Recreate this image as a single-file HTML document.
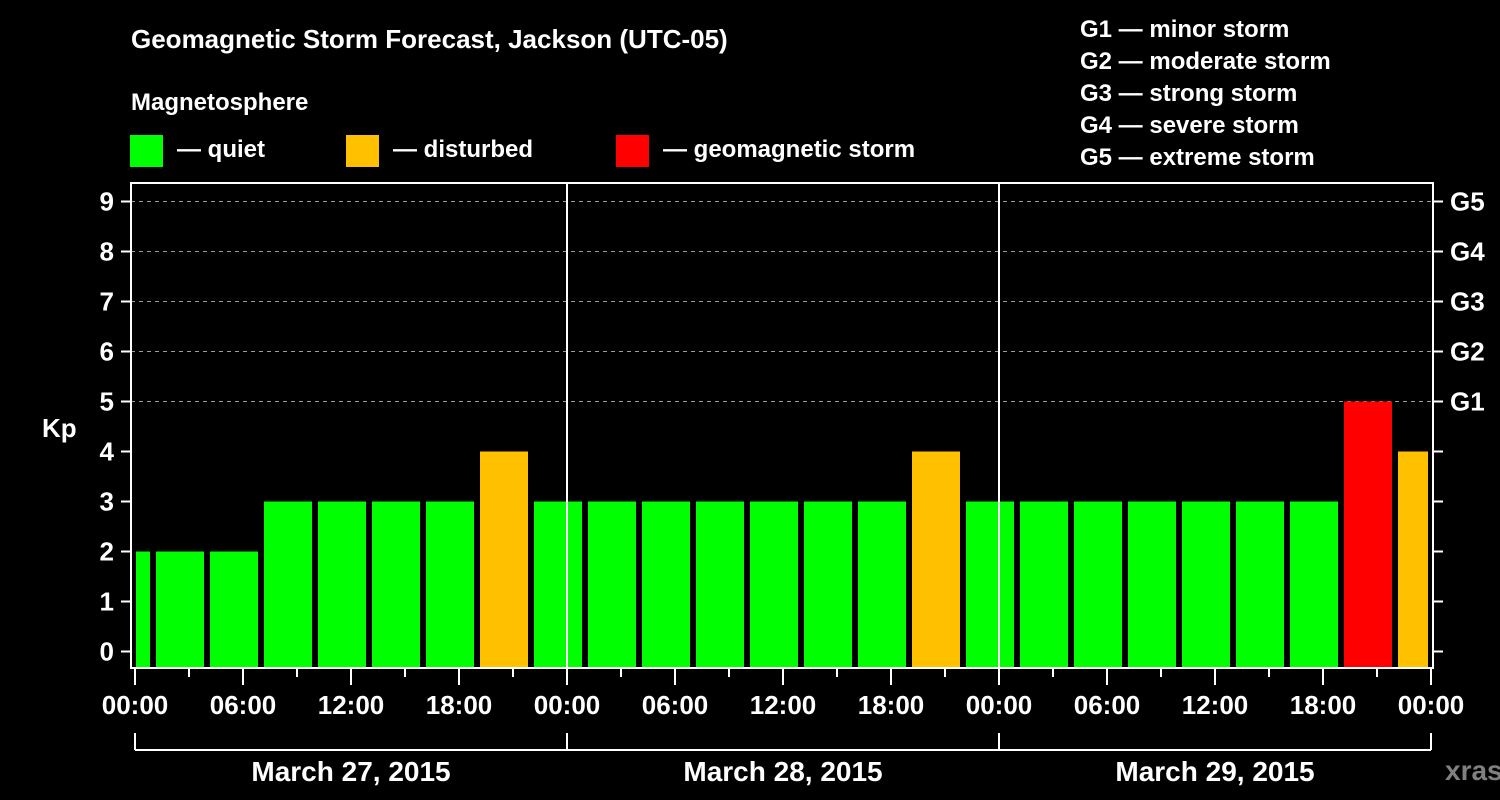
<!DOCTYPE html>
<html><head><meta charset="utf-8"><style>
html,body{margin:0;padding:0;background:#000;}
svg{display:block;font-family:"Liberation Sans",Arial,sans-serif;font-weight:bold;}
</style></head><body>
<svg id="chart" width="1500" height="800" viewBox="0 0 1500 800">
<rect x="0" y="0" width="1500" height="800" fill="#000"/>
<text x="131" y="48" fill="#fff" font-size="26">Geomagnetic Storm Forecast, Jackson (UTC-05)</text>
<text x="131" y="110" fill="#fff" font-size="24">Magnetosphere</text>
<g><rect x="130" y="135" width="33" height="32" fill="#00ff00"/><text x="177" y="157" fill="#fff" font-size="24">— quiet</text></g>
<g><rect x="346" y="135" width="33" height="32" fill="#ffc000"/><text x="393" y="157" fill="#fff" font-size="24">— disturbed</text></g>
<g><rect x="616" y="135" width="33" height="32" fill="#ff0000"/><text x="663" y="157" fill="#fff" font-size="24">— geomagnetic storm</text></g>
<g fill="#fff" font-size="24">
<text x="1080" y="37">G1 — minor storm</text>
<text x="1080" y="69">G2 — moderate storm</text>
<text x="1080" y="101">G3 — strong storm</text>
<text x="1080" y="133">G4 — severe storm</text>
<text x="1080" y="165">G5 — extreme storm</text>
</g>
<text x="42" y="437" fill="#fff" font-size="26">Kp</text>
<text x="1445" y="780" fill="#808080" font-size="28">xras.ru</text>
<g id="marks"></g>
</svg>
<script>
const barValues = [2, 2,2,3,3,3,3,4,3, 3,3,3,3,3,3,4,3, 3,3,3,3,3,3,5,4];
const kpTicks = [0,1,2,3,4,5,6,7,8,9];
const gLabels = ["G1","G2","G3","G4","G5"];
const timeLabels = ["00:00","06:00","12:00","18:00","00:00","06:00","12:00","18:00","00:00","06:00","12:00","18:00","00:00"];
const dayLabels = ["March 27, 2015","March 28, 2015","March 29, 2015"];

const NS="http://www.w3.org/2000/svg";
const g=document.getElementById('marks');
const x0=135, pxH=18, L=131, R=1433, T=183, B=668;
const xs=h=>x0+h*pxH;
const ys=k=>651.5-50*k;
function mk(tag,attrs,parent){const e=document.createElementNS(NS,tag);for(const k in attrs)e.setAttribute(k,attrs[k]);(parent||g).appendChild(e);return e;}
const maxH=timeLabels.length>1?(timeLabels.length-1)*6:72;
// grid
kpTicks.forEach(k=>{if(k>=5){const e=mk('line',{x1:L,x2:R,y1:ys(k),y2:ys(k),stroke:'#999','stroke-width':1,'stroke-dasharray':'4,4'});

}});
// bars: first partial bin ends at 01:00, then 3h bins
barValues.forEach((v,i)=>{
  let hs=i===0?-2:1+3*(i-1), he=hs+3;
  let xa=Math.max(xs(hs)+3,x0+1), xb=Math.min(xs(he)-3,xs(maxH)-3);
  const col=v>=5?'#ff0000':(v>=4?'#ffc000':'#00ff00');
  const e=mk('rect',{x:xa,y:ys(v),width:xb-xa,height:B-ys(v),fill:col});
  
  
});
// frame
const fr=mk('rect',{x:L,y:T,width:R-L,height:B-T,fill:'none',stroke:'#fff','stroke-width':2});


for(let d=1;d<dayLabels.length;d++){const e=mk('line',{x1:xs(24*d),x2:xs(24*d),y1:T,y2:B,stroke:'#fff','stroke-width':2});

}
// y ticks & labels
kpTicks.forEach(k=>{
  mk('line',{x1:121,x2:L,y1:ys(k),y2:ys(k),stroke:'#fff','stroke-width':2});
  mk('line',{x1:R,x2:1443,y1:ys(k),y2:ys(k),stroke:'#fff','stroke-width':2});
  const t=mk('text',{x:114,y:ys(k)+9,fill:'#fff','font-size':26,'text-anchor':'end'});t.textContent=k;
  
  
});
gLabels.forEach((s,i)=>{const t=mk('text',{x:1450,y:ys(5+i)+9,fill:'#fff','font-size':26});t.textContent=s;

});
// x ticks
for(let h=0;h<=maxH;h+=3){const major=h%6===0;mk('line',{x1:xs(h),x2:xs(h),y1:B,y2:B+(major?17:9),stroke:'#fff','stroke-width':2});}
timeLabels.forEach((s,i)=>{const t=mk('text',{x:xs(6*i),y:714,fill:'#fff','font-size':26,'text-anchor':'middle'});t.textContent=s;

});
// day bracket
mk('line',{x1:xs(0),x2:xs(maxH),y1:750,y2:750,stroke:'#fff','stroke-width':2});
for(let d=0;d<=dayLabels.length;d++)mk('line',{x1:xs(24*d),x2:xs(24*d),y1:733,y2:750,stroke:'#fff','stroke-width':2});
dayLabels.forEach((s,i)=>{const t=mk('text',{x:xs(24*i+12),y:781,fill:'#fff','font-size':28,'text-anchor':'middle'});t.textContent=s;

});
</script>
</body></html>
